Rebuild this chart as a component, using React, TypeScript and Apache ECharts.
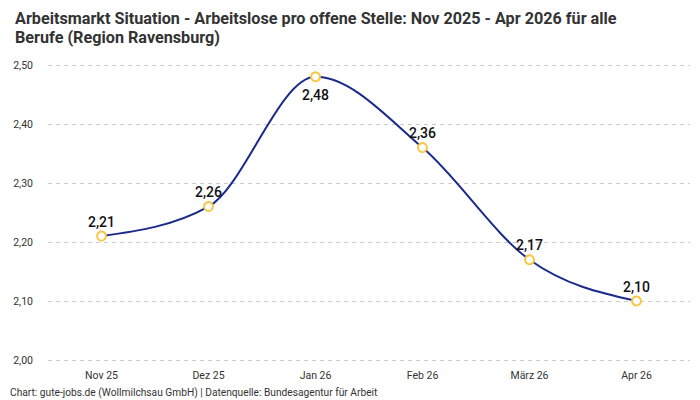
import React, { useEffect, useRef } from "react";
import * as echarts from "echarts";

const months = ["Nov 25", "Dez 25", "Jan 26", "Feb 26", "März 26", "Apr 26"];
const ratios = [2.21, 2.26, 2.48, 2.36, 2.17, 2.1];
const labelBelow = ["Jan 26"];

const fmt = (v: number) => v.toFixed(2).replace(".", ",");

// Monotone cubic (x-monotone) tangents, computed in pixel space
const sgn = (x: number) => (x < 0 ? -1 : 1);
function monotoneTangents(pts: number[][]): number[] {
  const n = pts.length;
  const t = new Array(n).fill(0);
  for (let i = 1; i < n - 1; i++) {
    const [x0, y0] = pts[i - 1];
    const [x1, y1] = pts[i];
    const [x2, y2] = pts[i + 1];
    const h0 = x1 - x0;
    const h1 = x2 - x1;
    const s0 = (y1 - y0) / h0;
    const s1 = (y2 - y1) / h1;
    const p = (s0 * h1 + s1 * h0) / (h0 + h1);
    t[i] = (sgn(s0) + sgn(s1)) * Math.min(Math.abs(s0), Math.abs(s1), 0.5 * Math.abs(p)) || 0;
  }
  if (n > 1) {
    const s = (pts[1][1] - pts[0][1]) / (pts[1][0] - pts[0][0]);
    t[0] = n > 2 ? (3 * s - t[1]) / 2 : s;
    const e = (pts[n - 1][1] - pts[n - 2][1]) / (pts[n - 1][0] - pts[n - 2][0]);
    t[n - 1] = n > 2 ? (3 * e - t[n - 2]) / 2 : e;
  }
  return t;
}

export default function App() {
  const ref = useRef<HTMLDivElement>(null);

  useEffect(() => {
    document.body.style.margin = "0";
    if (!ref.current) return;
    const chart = echarts.init(ref.current, undefined, { renderer: "svg" });
    chart.setOption({
      animation: false,
      title: {
        text: "Arbeitsmarkt Situation - Arbeitslose pro offene Stelle: Nov 2025 - Apr 2026 für alle\nBerufe (Region Ravensburg)",
        left: 10,
        top: 4,
        textStyle: {
          fontFamily: "Roboto, sans-serif",
          fontSize: 16.2,
          fontWeight: "bold",
          color: "#333",
          lineHeight: 19,
        },
      },
      graphic: [
        {
          type: "text",
          left: 10,
          top: 387,
          style: {
            text: "Chart: gute-jobs.de (Wollmilchsau GmbH) | Datenquelle: Bundesagentur für Arbeit",
            fontFamily: "Roboto, sans-serif",
            fontSize: 10.2,
            fill: "#333",
          },
        },
      ],
      grid: { left: 48, right: 10, top: 65, bottom: 40 },
      xAxis: {
        type: "category",
        data: months,
        boundaryGap: true,
        axisLine: { show: false },
        axisTick: { show: false },
        axisLabel: {
          margin: 10,
          fontFamily: "Roboto, sans-serif",
          fontSize: 10.5,
          color: "#333",
        },
      },
      yAxis: {
        type: "value",
        min: 2,
        max: 2.5,
        interval: 0.1,
        axisLabel: {
          margin: 15,
          fontFamily: "Roboto, sans-serif",
          fontSize: 10.5,
          color: "#333",
          formatter: (v: number) => fmt(v),
        },
        splitLine: { lineStyle: { type: [4, 4], color: "#cccccc" } },
      },
      series: [
        {
          // smooth curve through all points
          type: "custom",
          data: ratios.map((v, i) => [i, v]),
          z: 2,
          silent: true,
          renderItem: (params: any, api: any) => {
            if (params.dataIndex !== 0) return null;
            const pts = ratios.map((v, i) => api.coord([i, v]));
            const t = monotoneTangents(pts);
            const children = [];
            for (let i = 0; i < pts.length - 1; i++) {
              const [x0, y0] = pts[i];
              const [x1, y1] = pts[i + 1];
              const dx = (x1 - x0) / 3;
              children.push({
                type: "bezierCurve",
                shape: {
                  x1: x0,
                  y1: y0,
                  cpx1: x0 + dx,
                  cpy1: y0 + dx * t[i],
                  cpx2: x1 - dx,
                  cpy2: y1 - dx * t[i + 1],
                  x2: x1,
                  y2: y1,
                },
                style: { stroke: "#1a2a8c", lineWidth: 2, fill: "none" },
              });
            }
            return { type: "group", children };
          },
        },
        {
          type: "line",
          data: ratios.map((v, i) => {
            const below = labelBelow.includes(months[i]);
            return {
              value: v,
              label: { position: below ? "bottom" : "top", distance: below ? 6 : 2 },
            };
          }),
          z: 3,
          lineStyle: { width: 0, opacity: 0 },
          itemStyle: { color: "#ffffff", borderColor: "#f7c744", borderWidth: 2 },
          symbol: "circle",
          symbolSize: 9,
          label: {
            show: true,
            fontFamily: "Roboto, sans-serif",
            fontSize: 14,
            fontWeight: 500,
            color: "#111",
            formatter: (p: any) => fmt(p.value),
          },
        },
      ],
    });
    return () => chart.dispose();
  }, []);

  return <div ref={ref} style={{ width: 700, height: 400 }} />;
}
